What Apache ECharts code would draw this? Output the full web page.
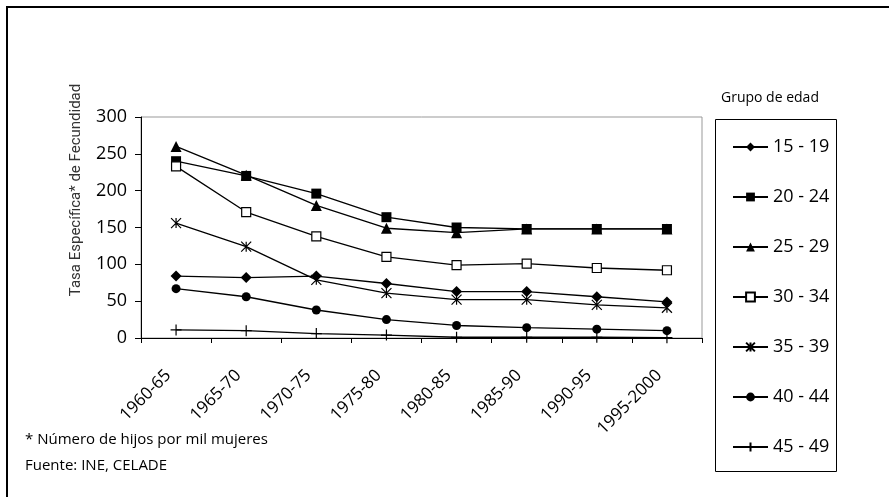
<!DOCTYPE html>
<html>
<head>
<meta charset="utf-8">
<script src="https://cdn.jsdelivr.net/npm/echarts@6/dist/echarts.min.js"></script>
<style>
  html, body { margin: 0; padding: 0; background: #fff; }
  #chart { width: 889px; height: 497px; }
</style>
</head>
<body>
<div id="chart"></div>
<script>
const categories = ["1960-65", "1965-70", "1970-75", "1975-80", "1980-85", "1985-90", "1990-95", "1995-2000"];
const yTicks = [0, 50, 100, 150, 200, 250, 300];

const g15_19 = [84, 82, 84, 74, 63, 63, 56, 49];
const g20_24 = [240, 220, 196, 164, 150, 148, 148, 148];
const g25_29 = [260, 221, 180, 149, 143, 148, 148, 148];
const g30_34 = [233, 171, 138, 110, 99, 101, 95, 92];
const g35_39 = [156, 124, 79, 61, 52, 52, 45, 41];
const g40_44 = [67, 56, 38, 25, 17, 14, 12, 10];
const g45_49 = [11, 10, 6, 4, 1, 1, 1, 0.5];

const asterisk = "path://M0,0L10,10M10,0L0,10M5,0L5,10";
const plus = "path://M0,5L10,5M5,0L5,10";

function mkSeries(name, data, symbol, size, fill) {
  return {
    name: name,
    type: "line",
    data: data,
    symbol: symbol,
    symbolSize: size,
    lineStyle: { color: "#000", width: 1.3 },
    itemStyle: {
      color: fill,
      borderColor: "#000",
      borderWidth: fill === "#000" ? 0 : 1.2
    },
    emphasis: { disabled: true },
    animation: false
  };
}

const chart = echarts.init(document.getElementById("chart"));
chart.setOption({
  animation: false,
  textStyle: { fontFamily: "Open Sans" },
  grid: {
    left: 141,
    top: 117,
    width: 561,
    height: 221,
    show: true,
    borderColor: "#999",
    borderWidth: 1
  },
  xAxis: {
    type: "category",
    data: categories,
    boundaryGap: true,
    axisLine: { lineStyle: { color: "#000", width: 1 } },
    axisTick: { show: true, length: 5, lineStyle: { color: "#000" } },
    axisLabel: {
      rotate: 45,
      fontSize: 17,
      color: "#000",
      margin: 27,
      padding: [0, 11, 0, 0],
      fontFamily: "Open Sans"
    }
  },
  yAxis: {
    type: "value",
    min: yTicks[0],
    max: yTicks[yTicks.length - 1],
    interval: 50,
    axisLine: { show: true, lineStyle: { color: "#000", width: 1 } },
    axisTick: { show: true, length: 6, lineStyle: { color: "#000" } },
    axisLabel: { fontSize: 18, color: "#000", margin: 14, fontFamily: "Open Sans" },
    splitLine: { show: false }
  },
  legend: {
    orient: "vertical",
    left: 727,
    top: 133,
    itemWidth: 35,
    itemHeight: 11,
    itemGap: 32,
    textStyle: { fontSize: 18, color: "#000", fontFamily: "Open Sans" },
    selectedMode: false
  },
  graphic: [
    {
      type: "polyline",
      shape: { points: [[7, 497], [7, 7], [889, 7]] },
      style: { stroke: "#000", lineWidth: 2, fill: null }
    },
    {
      type: "rect",
      shape: { x: 715.5, y: 119.5, width: 121, height: 352 },
      style: { stroke: "#000", lineWidth: 1, fill: null }
    },
    {
      type: "text",
      x: 76,
      y: 190,
      rotation: Math.PI / 2,
      style: {
        text: "Tasa Específica* de Fecundidad",
        fontSize: 15,
        fill: "#333",
        fontFamily: "Roboto",
        align: "center",
        verticalAlign: "middle"
      }
    },
    {
      type: "text",
      left: 721,
      top: 91,
      style: { text: "Grupo de edad", fontSize: 14, fill: "#000", fontFamily: "Open Sans" }
    },
    {
      type: "text",
      left: 25,
      top: 432,
      style: { text: "* Número de hijos por mil mujeres", fontSize: 15, fill: "#000", fontFamily: "Open Sans" }
    },
    {
      type: "text",
      left: 25,
      top: 458,
      style: { text: "Fuente: INE, CELADE", fontSize: 15, fill: "#000", fontFamily: "Open Sans" }
    }
  ],
  series: [
    mkSeries("15 - 19", g15_19, "diamond", 11, "#000"),
    mkSeries("20 - 24", g20_24, "rect", 10, "#000"),
    mkSeries("25 - 29", g25_29, "triangle", 11, "#000"),
    mkSeries("30 - 34", g30_34, "rect", 9, "#fff"),
    mkSeries("35 - 39", g35_39, asterisk, 10, "none"),
    mkSeries("40 - 44", g40_44, "circle", 9, "#000"),
    mkSeries("45 - 49", g45_49, plus, 11, "none")
  ]
});
</script>
</body>
</html>
